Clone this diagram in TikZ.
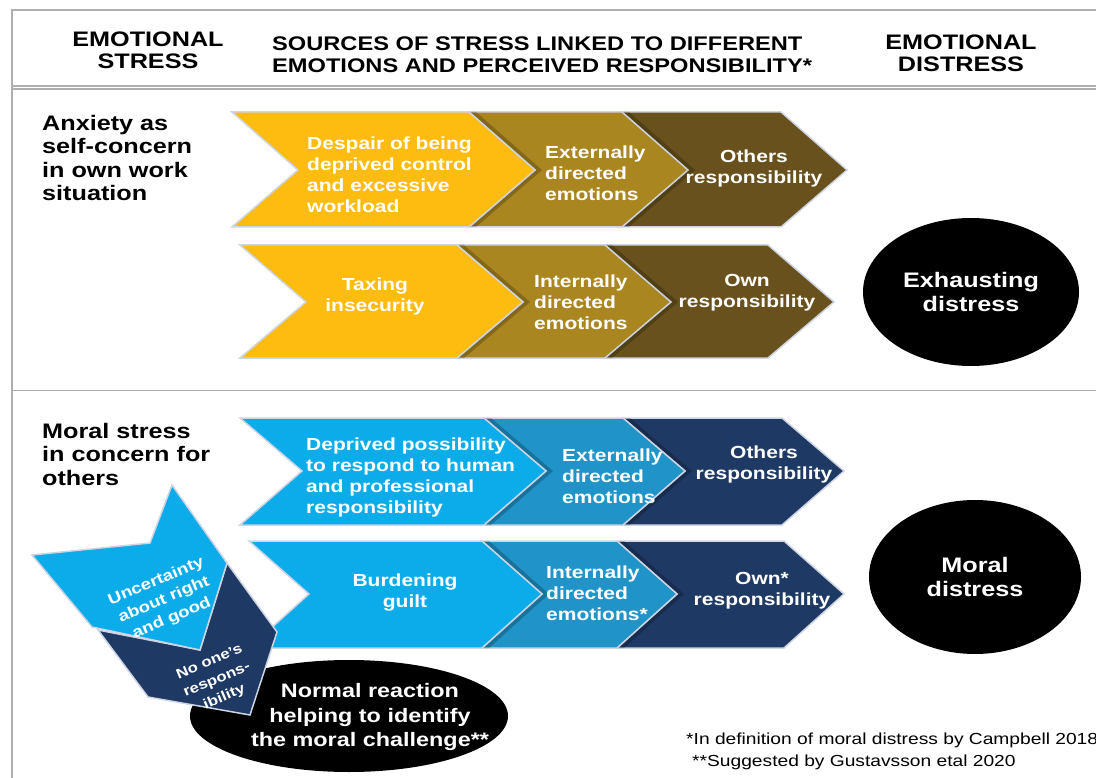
\documentclass[tikz,border=0pt]{standalone}
\usepackage{fontspec}
\setmainfont[FakeStretch=1.2]{Liberation Sans}
\usepackage{tikz}
\usetikzlibrary{shapes.geometric, shadows}
\tikzset{>=latex}
\definecolor{myyellow}{RGB}{254,188,16}
\definecolor{mygold}{RGB}{170,134,33}
\definecolor{myolive}{RGB}{104,81,29}
\definecolor{mycyan}{RGB}{12,172,234}
\definecolor{mymidblue}{RGB}{32,148,200}
\definecolor{mynavy}{RGB}{30,57,100}
\definecolor{myrim}{RGB}{205,212,226}
\definecolor{myframe}{RGB}{175,175,175}
\tikzset{
chev/.style={draw=myrim, line width=1.5pt},
shade/.style={drop shadow={shadow xshift=7pt, shadow yshift=0pt, opacity=.22, fill=black}},
wtext/.style={text=white, font=\bfseries\fontsize{17.5}{21}\selectfont, inner sep=0pt},
ltext/.style={font=\bfseries\fontsize{21}{23.5}\selectfont, align=left, anchor=west, inner sep=0pt},
htext/.style={font=\bfseries\fontsize{21}{22}\selectfont, inner sep=0pt},
blob/.style={ellipse, fill=black, text=white, inner sep=0pt, align=center, font=\bfseries\fontsize{21}{24}\selectfont}
}

\begin{document}
\begin{tikzpicture}[x=1pt, y=-1pt]
\useasboundingbox (0,0) rectangle (1096,778);
\draw[myframe, line width=1.2pt] (1096,10) -- (12,10) -- (12,778);
\draw[myframe, line width=1.2pt] (12,86) -- (1096,86);
\draw[myframe, line width=1.2pt] (12,89) -- (1096,89);
\draw[myframe, line width=1pt] (12,390) -- (1096,390);

\node[htext, align=center] (hl) at (148,50) {EMOTIONAL\\STRESS};
\node[htext, align=left, anchor=west, font=\bfseries\fontsize{19.7}{22}\selectfont] (hm) at (272,55) {SOURCES OF STRESS LINKED TO DIFFERENT\\EMOTIONS AND PERCEIVED RESPONSIBILITY*};
\node[htext, align=center] (hr) at (961,53) {EMOTIONAL\\DISTRESS};

\node[ltext] (anx) at (42,158) {Anxiety as\\self-concern\\in own work\\situation};
\node[ltext] (mst) at (42,454) {Moral stress\\in concern for\\others};

\foreach \l/\r/\c/\s in {618/781/myolive/, 469/622/mygold/shade, 232/469/myyellow/shade}
\draw[chev, fill=\c, \s] (\l,112) -- (\r,112) -- ({\r+66},170) -- (\r,227) -- (\l,227) -- ({\l+66},170) -- cycle;
\foreach \l/\r/\c/\s in {604/768/myolive/, 457/605/mygold/shade, 240/457/myyellow/shade}
\draw[chev, fill=\c, \s] (\l,245) -- (\r,245) -- ({\r+66},302) -- (\r,358) -- (\l,358) -- ({\l+66},302) -- cycle;
\foreach \l/\r/\c/\s in {623/782/mynavy/, 484/623/mymidblue/shade, 240/484/mycyan/shade}
\draw[chev, fill=\c, \s] (\l,418) -- (\r,418) -- ({\r+62},471) -- (\r,525) -- (\l,525) -- ({\l+62},471) -- cycle;
\foreach \l/\r/\c/\s in {617/784/mynavy/, 482/617/mymidblue/shade, 249/482/mycyan/shade}
\draw[chev, fill=\c, \s] (\l,541) -- (\r,541) -- ({\r+60},594) -- (\r,648) -- (\l,648) -- ({\l+60},594) -- cycle;

\node[wtext, align=left, anchor=west] (r1a) at (307,175) {Despair of being\\deprived control\\and excessive\\workload};
\node[wtext, align=left, anchor=west] (r1b) at (545,173) {Externally\\directed\\emotions};
\node[wtext, align=center] (r1c) at (754,168) {Others\\responsibility};
\node[wtext, align=center] (r2a) at (375,296) {Taxing\\insecurity};
\node[wtext, align=left, anchor=west] (r2b) at (534,302) {Internally\\directed\\emotions};
\node[wtext, align=center] (r2c) at (747,293) {Own\\responsibility};
\node[wtext, align=left, anchor=west] (r3a) at (306,477) {Deprived possibility\\to respond to human\\and professional\\responsibility};
\node[wtext, align=left, anchor=west] (r3b) at (562,476) {Externally\\directed\\emotions};
\node[wtext, align=center] (r3c) at (764,464) {Others\\responsibility};
\node[wtext, align=center] (r4a) at (405,593) {Burdening\\guilt};
\node[wtext, align=left, anchor=west] (r4b) at (546,593) {Internally\\directed\\emotions*};
\node[wtext, align=center] (r4c) at (762,591) {Own*\\responsibility};

\node[blob, minimum width=216pt, minimum height=148pt] (exh) at (971,292) {Exhausting\\distress};
\node[blob, minimum width=212pt, minimum height=154pt] (mor) at (975,577) {Moral\\distress};
\node[blob, minimum width=318pt, minimum height=112pt] (nrm) at (349,716) {};
\node[text=white, font=\bfseries\fontsize{19.5}{24.5}\selectfont, align=center, inner sep=0pt] (nrmt) at (370,717) {Normal reaction\\helping to identify\\the moral challenge**};

\draw[chev, fill=mynavy] (98,630) -- (200,650) -- (227,563) -- (277,632) -- (250,715) -- (148,697) -- cycle;
\draw[chev, fill=mycyan] (32,555) -- (150,543) -- (172,485) -- (227,563) -- (200,650) -- (92,627) -- cycle;
\node[wtext, rotate=23, align=center, font=\bfseries\fontsize{15.5}{20}\selectfont] (unc) at (164,600) {Uncertainty\\about right\\and good};
\node[wtext, rotate=23, align=center, font=\bfseries\fontsize{14}{19}\selectfont] (none) at (217,680) {No one's\\respons-\\ibility};

\node[anchor=west, inner sep=0pt, font=\fontsize{16}{19}\selectfont] (fn1) at (686,740) {*In definition of moral distress by Campbell 2018};
\node[anchor=west, inner sep=0pt, font=\fontsize{16}{19}\selectfont] (fn2) at (692,762) {**Suggested by Gustavsson etal 2020};
\end{tikzpicture}
\end{document}
